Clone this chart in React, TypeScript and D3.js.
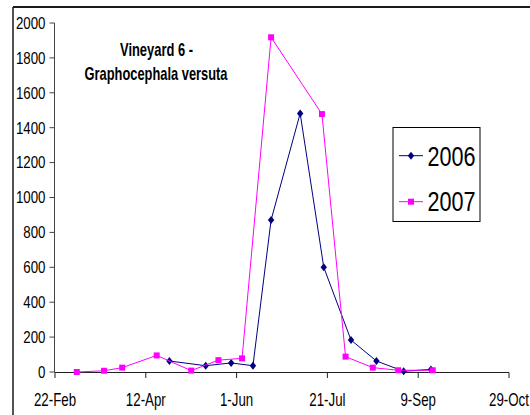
import React from "react";
import * as d3 from "d3";

const W = 530;
const H = 415;

// Dates are placed on a common (leap) year axis, as in the original Excel chart
const dates2006 = ["04-25", "05-15", "05-29", "06-10", "06-20", "07-06", "07-19", "08-03", "08-17", "09-01", "09-16"];
const values2006 = [63, 36, 52, 36, 871, 1482, 600, 183, 63, 4, 15];

const dates2007 = ["03-05", "03-20", "03-30", "04-18", "05-07", "05-22", "06-04", "06-20", "07-18", "07-31", "08-15", "08-29", "09-17"];
const values2007 = [0, 7, 25, 95, 8, 68, 78, 1918, 1478, 88, 25, 10, 10];

const xTickDates = ["02-22", "04-12", "06-01", "07-21", "09-09", "10-29"];
const yTicks = [0, 200, 400, 600, 800, 1000, 1200, 1400, 1600, 1800, 2000];
const seriesNames = ["2006", "2007"];
const titleLines = ["Vineyard 6 -", "Graphocephala versuta"];

const parse = (s: string) => d3.utcParse("%Y-%m-%d")("2008-" + s) as Date;
const fmt = d3.utcFormat("%-d-%b");

export default function App() {
  const x = d3.scaleUtc().domain([parse("02-22"), parse("10-29")]).range([55, 509]);
  const y = d3.scaleLinear().domain([0, 2000]).range([372, 23]);

  const s2006 = dates2006.map((d, i) => ({ x: x(parse(d)), y: y(values2006[i]) }));
  const s2007 = dates2007.map((d, i) => ({ x: x(parse(d)), y: y(values2007[i]) }));
  const line = d3.line<{ x: number; y: number }>().x((d) => d.x).y((d) => d.y);

  const navy = "#000080";
  const mag = "#FF00FF";
  const diamond = "M0,-4L3.2,0L0,4L-3.2,0Z";

  const font = "'Liberation Sans', Arial, sans-serif";

  return (
    <svg
      width={W}
      height={H}
      style={{ position: "absolute", left: 0, top: 0, background: "#fff" }}
      fontFamily={font}
    >
      <rect x={0} y={0} width={W} height={H} fill="#fff" />
      {/* chart frame (extends beyond the cropped image) */}
      <line x1={13} y1={7} x2={W + 5} y2={7} stroke="#1a1a1a" strokeWidth={2} />
      <line x1={13} y1={7} x2={13} y2={H + 5} stroke="#1a1a1a" strokeWidth={1.5} />

      {/* y axis */}
      <line x1={54.5} y1={y(2000)} x2={54.5} y2={y(0)} stroke="#444" strokeWidth={1} />
      {yTicks.map((t) => (
        <g key={"y" + t}>
          <line x1={49.5} x2={54.5} y1={y(t)} y2={y(t)} stroke="#444" strokeWidth={1} />
          <text
            transform={`translate(45.5,${y(t) + 5.8}) scale(0.83,1)`}
            textAnchor="end"
            fontSize={16}
            fill="#000"
          >
            {t}
          </text>
        </g>
      ))}

      {/* x axis */}
      <line x1={54.5} y1={372.5} x2={x(parse("10-29"))} y2={372.5} stroke="#222" strokeWidth={1} />
      {xTickDates.map((d) => {
        const px = x(parse(d));
        return (
          <g key={"x" + d}>
            <line x1={px} x2={px} y1={372.5} y2={378} stroke="#222" strokeWidth={1} />
            <text
              transform={`translate(${px},406.3) scale(0.76,1)`}
              textAnchor="middle"
              fontSize={17.5}
              fill="#000"
            >
              {fmt(parse(d))}
            </text>
          </g>
        );
      })}

      {/* title */}
      <text x={156.5} y={56} textAnchor="middle" fontWeight="bold" fontSize={19} textLength={73} lengthAdjust="spacingAndGlyphs">
        {titleLines[0]}
      </text>
      <text x={156} y={80} textAnchor="middle" fontWeight="bold" fontSize={19} textLength={143} lengthAdjust="spacingAndGlyphs">
        {titleLines[1]}
      </text>

      {/* 2006 series */}
      <path d={line(s2006) || ""} fill="none" stroke={navy} strokeWidth={1} />
      {s2006.map((p, i) => (
        <path key={"a" + i} d={diamond} transform={`translate(${p.x},${p.y})`} fill={navy} />
      ))}

      {/* 2007 series */}
      <path d={line(s2007) || ""} fill="none" stroke={mag} strokeWidth={1} />
      {s2007.map((p, i) => (
        <rect key={"b" + i} x={p.x - 3} y={p.y - 3} width={6} height={6} fill={mag} />
      ))}

      {/* legend */}
      <rect x={393} y={127.5} width={87} height={94} fill="#fff" stroke="#000" strokeWidth={1} />
      <line x1={399} x2={423} y1={155.7} y2={155.7} stroke={navy} strokeWidth={1} />
      <path d={diamond} transform="translate(411,155.7)" fill={navy} />
      <text x={427.5} y={165.5} fontSize={28} textLength={48} lengthAdjust="spacingAndGlyphs">
        {seriesNames[0]}
      </text>
      <line x1={399} x2={423} y1={201.7} y2={201.7} stroke={mag} strokeWidth={1} />
      <rect x={408} y={198.7} width={6} height={6} fill={mag} />
      <text x={427.5} y={211} fontSize={28} textLength={48} lengthAdjust="spacingAndGlyphs">
        {seriesNames[1]}
      </text>
    </svg>
  );
}
